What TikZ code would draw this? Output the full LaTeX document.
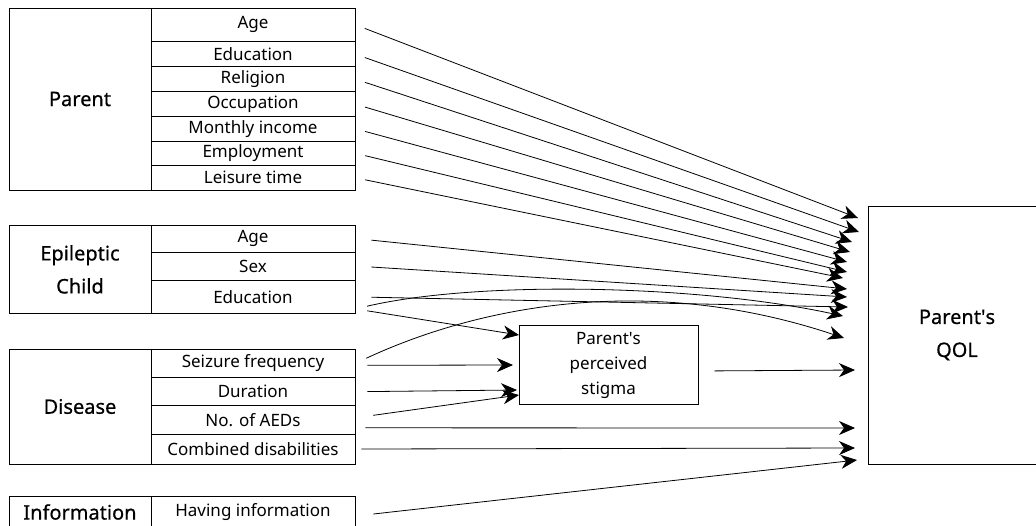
\documentclass[tikz,border=0pt]{standalone}
\usepackage{fontspec}
\setmainfont{Noto Sans}
\newfontfamily\groupfont{Noto Sans}[FakeBold=0.6]
\usetikzlibrary{arrows.meta}

\begin{document}
\begin{tikzpicture}[x=0.5pt, y=-0.5pt,
    group/.style={draw, inner sep=0pt, minimum width=71pt, align=center, font=\groupfont\fontsize{10}{16.5}\selectfont},
    item/.style={draw, inner sep=0pt, minimum width=102pt, font=\fontsize{8.5}{10}\selectfont},
    arr/.style={-{Stealth[length=8pt, width=7pt, inset=2.5pt]}, shorten <=5pt}]
    \useasboundingbox (0, 0) rectangle (1036, 525);
    \clip (0, 0) rectangle (1036, 525);
    % Parent
    \node[group, minimum height=91pt] (parent) at (80, 99) {Parent};
    \node[item, minimum height=16.85pt] (page) at (253, 24.8) {Age};
    \node[item, minimum height=12.5pt] (pedu) at (253, 54.2) {Education};
    \node[item, minimum height=12.5pt] (prel) at (253, 79.2) {Religion};
    \node[item, minimum height=12.5pt] (pocc) at (253, 104.2) {Occupation};
    \node[item, minimum height=12.2pt] (pinc) at (253, 128.8) {Monthly income};
    \node[item, minimum height=12.3pt] (pemp) at (253, 153.3) {Employment};
    \node[item, minimum height=12.2pt] (plei) at (253, 177.8) {Leisure time};
    % Epileptic child
    \node[group, minimum height=44.35pt] (child) at (80, 269.4) {Epileptic\\Child};
    \node[item, minimum height=13.5pt] (cage) at (253, 238.5) {Age};
    \node[item, minimum height=14pt] (csex) at (253, 266) {Sex};
    \node[item, minimum height=16.85pt] (cedu) at (253, 296.9) {Education};
    % Disease
    \node[group, minimum height=57.5pt] (disease) at (80, 406.5) {Disease};
    \node[item, minimum height=14.35pt] (seiz) at (253, 363.3) {Seizure frequency};
    \node[item, minimum height=14pt] (dur) at (253, 391.7) {Duration};
    \node[item, minimum height=14.15pt] (aed) at (253, 419.8) {No. of AEDs};
    \node[item, minimum height=15pt] (comb) at (253, 449) {Combined disabilities};
    % Information
    \node[group, minimum height=16pt] (inform) at (80, 512) {Information};
    \node[item, minimum height=16pt] (info) at (253, 512) {Having information};
    % Stigma and QOL
    \node[draw, minimum width=89.5pt, minimum height=39pt, align=center, font=\fontsize{8.5}{12.5}\selectfont] (stigma) at (608.5, 365) {Parent\textquotesingle s\\perceived\\stigma};
    \node[draw, minimum width=89pt, minimum height=129pt, align=center, font=\groupfont\fontsize{10}{16.5}\selectfont] (qol) at (957, 335) {Parent\textquotesingle s\\QOL};
    % Arrow tips
    \coordinate (q1) at (858, 218);
    \coordinate (q2) at (859, 232);
    \coordinate (q3) at (852, 242);
    \coordinate (q4) at (850, 252);
    \coordinate (q5) at (847, 262);
    \coordinate (q6) at (847, 272);
    \coordinate (q7) at (843, 278);
    \coordinate (q8) at (847, 289);
    \coordinate (q9) at (847, 297);
    \coordinate (q10) at (848, 307);
    \coordinate (q11) at (843, 316);
    \coordinate (q12) at (844, 338);
    \coordinate (q13) at (855, 370);
    \coordinate (q14) at (855, 428);
    \coordinate (q15) at (855, 448);
    \coordinate (q16) at (857, 460);
    \coordinate (s1) at (519, 335);
    \coordinate (s2) at (513, 365);
    \coordinate (s3) at (517, 390);
    \coordinate (s4) at (519, 395);
    % Draw paths to QOL
    \draw[arr] (page.east) -- (q1);
    \draw[arr] (pedu.east) -- (q2);
    \draw[arr] (prel.east) -- (q3);
    \draw[arr] (pocc.east) -- (q4);
    \draw[arr] (pinc.east) -- (q5);
    \draw[arr] (pemp.east) -- (q6);
    \draw[arr] (plei.east) -- (q7);
    \draw[arr, shorten <=8pt] (cage.east) -- (q8);
    \draw[arr, shorten <=8pt] (csex.east) -- (q9);
    \draw[arr, shorten <=8pt] (cedu.east) -- (q10);
    \draw[arr, shorten <=6pt] ([yshift=-6pt]cedu.east) .. controls (480, 280) and (700, 285) .. (q11);
    \draw[arr, shorten <=6pt] (seiz.east) .. controls (470, 310) and (640, 270) .. (q12);
    \draw[arr, shorten <=8pt] ([yshift=-3pt]stigma.east) -- (q13);
    \draw[arr] ([yshift=-4pt]aed.east) -- (q14);
    \draw[arr, shorten <=3pt] (comb.east) -- (q15);
    \draw[arr, shorten <=9pt] ([yshift=-2pt]info.east) -- (q16);
    % Draw paths to stigma
    \draw[arr, shorten <=6pt] ([yshift=-6pt]cedu.east) -- (s1);
    \draw[arr, shorten <=6pt] ([yshift=-1pt]seiz.east) -- (s2);
    \draw[arr, shorten <=6pt] (dur.east) -- (s3);
    \draw[arr, shorten <=9pt] ([yshift=1pt]aed.east) -- (s4);
\end{tikzpicture}
\end{document}
